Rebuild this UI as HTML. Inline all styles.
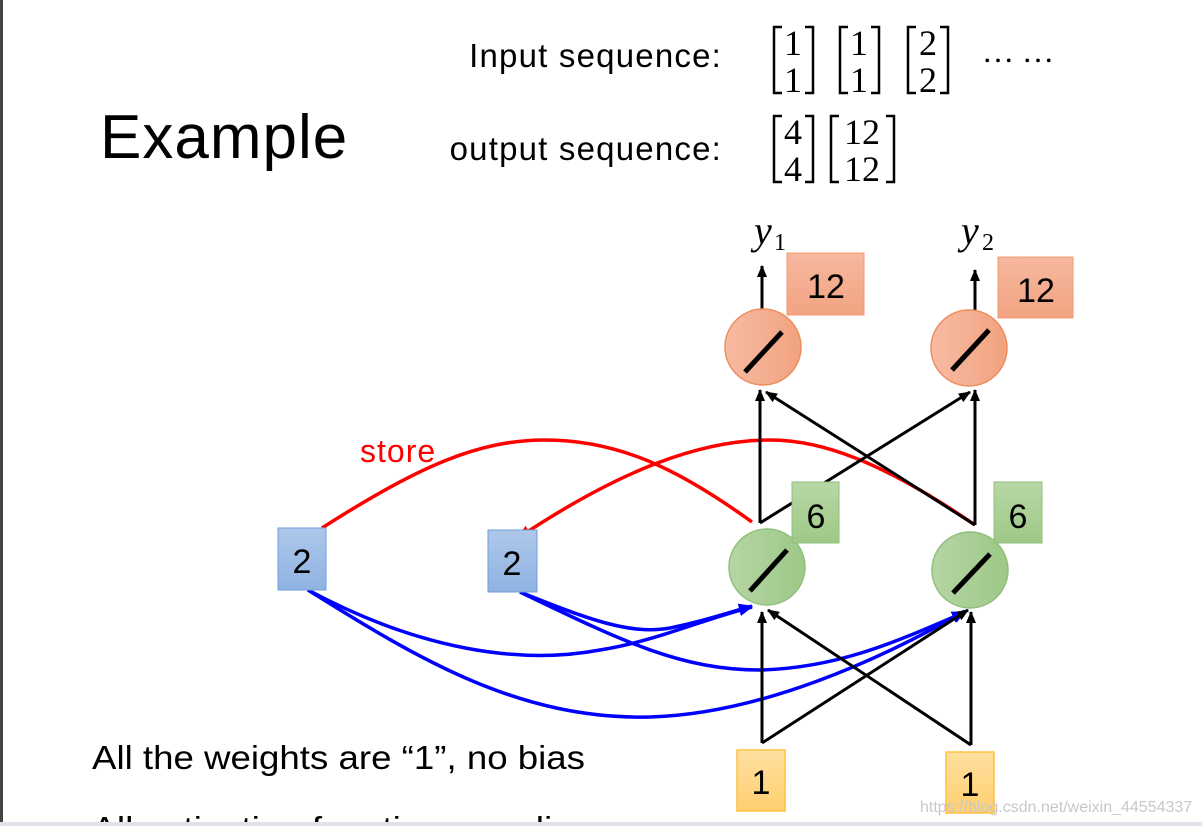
<!DOCTYPE html>
<html><head><meta charset="utf-8"><style>
html,body{margin:0;padding:0;background:#fff;}
svg{display:block;}
text{font-family:"Liberation Sans",sans-serif;}
.s{font-family:"Liberation Serif",serif;}
</style></head><body>
<svg width="1202" height="826" viewBox="0 0 1202 826" xmlns="http://www.w3.org/2000/svg">
<defs>
<marker id="ak" markerWidth="12" markerHeight="12" refX="11" refY="6" orient="auto" markerUnits="userSpaceOnUse"><path d="M0,1 L12,6 L0,11 Z" fill="#000"/></marker>
<marker id="ar" markerWidth="14" markerHeight="12" refX="13" refY="6" orient="auto" markerUnits="userSpaceOnUse"><path d="M0,0 L14,6 L0,12 Z" fill="#f00"/></marker>
<marker id="ab" markerWidth="14" markerHeight="12" refX="13" refY="6" orient="auto" markerUnits="userSpaceOnUse"><path d="M0,0 L14,6 L0,12 Z" fill="#00f"/></marker>
<linearGradient id="go" x1="0" x2="1"><stop offset="0" stop-color="#f6bba2"/><stop offset="1" stop-color="#f2a27f"/></linearGradient>
<linearGradient id="gg" x1="0" x2="1"><stop offset="0" stop-color="#b6d5a5"/><stop offset="1" stop-color="#9dc886"/></linearGradient>
<linearGradient id="gb" x1="0" y1="0" x2="0" y2="1"><stop offset="0" stop-color="#aec8ea"/><stop offset="1" stop-color="#8fb3e2"/></linearGradient>
<linearGradient id="gy" x1="0" y1="0" x2="0" y2="1"><stop offset="0" stop-color="#ffe0a0"/><stop offset="1" stop-color="#ffcf70"/></linearGradient>
<linearGradient id="gob" x1="0" y1="0" x2="0" y2="1"><stop offset="0" stop-color="#f6b89e"/><stop offset="1" stop-color="#f2a382"/></linearGradient>
<linearGradient id="ggb" x1="0" y1="0" x2="0" y2="1"><stop offset="0" stop-color="#b8d7a6"/><stop offset="1" stop-color="#9ec987"/></linearGradient>
</defs>
<rect x="0" y="0" width="3" height="826" fill="#444"/>

<text x="100" y="158" font-size="62" letter-spacing="1">Example</text>
<text x="722" y="67" font-size="33" text-anchor="end" letter-spacing="1.2">Input sequence:</text>
<text x="722" y="160" font-size="33" text-anchor="end" letter-spacing="1.2">output sequence:</text>

<g fill="none" stroke="#000" stroke-width="2.5">
<path d="M782,27 h-8 v66 h8 M805,27 h8 v66 h-8"/>
<path d="M848,27 h-8 v66 h8 M871,27 h8 v66 h-8"/>
<path d="M916,27 h-8 v66 h8 M940,27 h8 v66 h-8"/>
<path d="M782,116 h-8 v66 h8 M805,116 h8 v66 h-8"/>
<path d="M839,116 h-8 v66 h8 M886,116 h8 v66 h-8"/>
</g>
<g font-size="36">
<text class="s" x="793" y="55" text-anchor="middle">1</text><text class="s" x="793" y="92" text-anchor="middle">1</text>
<text class="s" x="859" y="55" text-anchor="middle">1</text><text class="s" x="859" y="92" text-anchor="middle">1</text>
<text class="s" x="928" y="55" text-anchor="middle">2</text><text class="s" x="928" y="92" text-anchor="middle">2</text>
<text class="s" x="982" y="62" font-size="32">… …</text>
<text class="s" x="793" y="144" text-anchor="middle">4</text><text class="s" x="793" y="181" text-anchor="middle">4</text>
<text class="s" x="862" y="144" text-anchor="middle">12</text><text class="s" x="862" y="181" text-anchor="middle">12</text>
</g>

<text class="s" x="754" y="244" font-size="40" font-style="italic">y</text><text class="s" x="774" y="250" font-size="24">1</text>
<text class="s" x="961" y="244" font-size="40" font-style="italic">y</text><text class="s" x="982" y="250" font-size="24">2</text>

<path d="M322,528 C420,465 480,440 545,440 C620,440 680,470 752,522" fill="none" stroke="#f00" stroke-width="3.5"/>
<path d="M975,525 C880,460 820,440 770,440 C700,440 620,470 518,538" fill="none" stroke="#f00" stroke-width="3.5" marker-end="url(#ar)"/>
<text x="360" y="462" font-size="32" fill="#f00" letter-spacing="1">store</text>

<g fill="none" stroke="#00f" stroke-width="3.5">
<path d="M308,590 C420,650 520,665 600,650 C660,640 700,620 752,607" marker-end="url(#ab)"/>
<path d="M308,590 C420,660 520,720 650,717 C760,714 880,660 965,611" marker-end="url(#ab)"/>
<path d="M520,592 C590,620 630,635 670,628 C700,622 720,615 752,606" marker-end="url(#ab)"/>
<path d="M520,592 C620,640 680,670 760,670 C840,668 900,640 965,612" marker-end="url(#ab)"/>
</g>

<g stroke="#000" stroke-width="3" fill="none">
<line x1="762" y1="309" x2="762" y2="266" marker-end="url(#ak)"/>
<line x1="975" y1="310" x2="975" y2="270" marker-end="url(#ak)"/>
<line x1="760" y1="523" x2="760" y2="390" marker-end="url(#ak)"/>
<path d="M760,523 L970,392" marker-end="url(#ak)"/>
<line x1="975" y1="525" x2="975" y2="390" marker-end="url(#ak)"/>
<path d="M975,525 L766,392" marker-end="url(#ak)"/>
<line x1="762" y1="743" x2="762" y2="612" marker-end="url(#ak)"/>
<path d="M762,743 L968,610" marker-end="url(#ak)"/>
<line x1="971" y1="745" x2="971" y2="612" marker-end="url(#ak)"/>
<path d="M971,745 L768,610" marker-end="url(#ak)"/>
</g>

<circle cx="763" cy="347" r="38" fill="url(#go)" stroke="#ee8c5c" stroke-width="1.5"/>
<line x1="745" y1="372" x2="782" y2="332" stroke="#000" stroke-width="5"/>
<circle cx="969" cy="348" r="38" fill="url(#go)" stroke="#ee8c5c" stroke-width="1.5"/>
<line x1="952" y1="370" x2="989" y2="330" stroke="#000" stroke-width="5"/>
<rect x="787" y="253" width="77" height="62" fill="url(#gob)" stroke="#ef9a70" stroke-width="1"/>
<text x="826" y="298" font-size="34" text-anchor="middle">12</text>
<rect x="998" y="257" width="75" height="61" fill="url(#gob)" stroke="#ef9a70" stroke-width="1"/>
<text x="1036" y="302" font-size="34" text-anchor="middle">12</text>

<circle cx="767" cy="567" r="38" fill="url(#gg)" stroke="#8fc07a" stroke-width="1.5"/>
<line x1="750" y1="591" x2="787" y2="550" stroke="#000" stroke-width="5"/>
<circle cx="970" cy="570" r="38" fill="url(#gg)" stroke="#8fc07a" stroke-width="1.5"/>
<line x1="953" y1="593" x2="990" y2="554" stroke="#000" stroke-width="5"/>
<rect x="792" y="482" width="47" height="61" fill="url(#ggb)" stroke="#8fc07a" stroke-width="1"/>
<text x="816" y="528" font-size="34" text-anchor="middle">6</text>
<rect x="994" y="482" width="48" height="61" fill="url(#ggb)" stroke="#8fc07a" stroke-width="1"/>
<text x="1018" y="528" font-size="34" text-anchor="middle">6</text>

<rect x="278" y="528" width="48" height="62" fill="url(#gb)" stroke="#6e9fdc" stroke-width="1"/>
<text x="302" y="573" font-size="34" text-anchor="middle">2</text>
<rect x="488" y="530" width="49" height="62" fill="url(#gb)" stroke="#6e9fdc" stroke-width="1"/>
<text x="512" y="575" font-size="34" text-anchor="middle">2</text>

<rect x="737" y="750" width="48" height="61" fill="url(#gy)" stroke="#ffc040" stroke-width="1.5"/>
<text x="761" y="794" font-size="34" text-anchor="middle">1</text>
<rect x="946" y="752" width="48" height="61" fill="url(#gy)" stroke="#ffc040" stroke-width="1.5"/>
<text x="970" y="796" font-size="34" text-anchor="middle">1</text>

<text x="92" y="769" font-size="33" textLength="493" lengthAdjust="spacingAndGlyphs">All the weights are “1”, no bias</text>
<text x="92" y="840" font-size="33" textLength="535" lengthAdjust="spacingAndGlyphs">All activation functions are linear</text>
<rect x="0" y="822" width="1202" height="4" fill="#dde3e8"/>
<text x="920" y="812" font-size="16" fill="#c8c8c8">https://blog.csdn.net/weixin_44554337</text>
</svg>
</body></html>
